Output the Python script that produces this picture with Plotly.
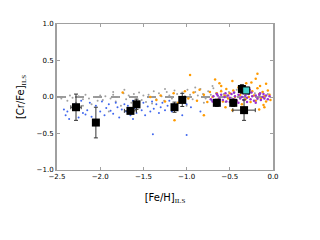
import plotly.graph_objects as go

gray_x = [-2.45,-2.42,-2.38,-2.35,-2.32,-2.28,-2.25,-2.2,-2.17,-2.13,-2.1,-2.07,-2.03,-2.0,-1.97,-1.94,-1.9,-1.88,-1.85,-1.82,-1.79,-1.76,-1.73,-1.7,-1.67,-1.64,-1.61,-1.58,-1.55,-1.52,-1.5,-1.47,-1.44,-1.41,-1.38,-1.35,-1.32,-1.29,-1.26,-1.23,-1.2,-1.17,-1.14,-1.11,-1.08,-1.05,-1.02,-0.99,-0.96,-0.93,-0.9,-0.87,-0.84,-0.81,-0.78,-0.75,-0.72,-0.69,-0.66,-0.63,-0.6,-0.57,-0.54,-0.51,-0.48,-0.45,-0.42,-0.39,-0.36,-0.33,-0.3,-0.27,-0.24,-0.21,-0.18,-0.15,-0.12,-0.09,-0.06,-1.6,-1.4,-1.0,-0.8,-0.55,-2.2,-1.85,-1.25,-0.9,-0.7,-1.72]
gray_y = [-0.02,0.0,-0.05,0.02,-0.01,-0.08,0.01,-0.03,0.03,-0.02,-0.1,0.0,-0.05,0.02,-0.04,0.01,-0.2,-0.02,0.03,-0.06,0.0,-0.12,0.05,-0.03,0.02,-0.08,0.04,-0.01,0.06,-0.04,0.02,-0.07,0.03,0.0,0.08,-0.03,0.05,0.01,-0.05,0.07,0.02,-0.02,0.09,0.04,-0.04,0.06,0.01,0.1,0.03,-0.03,0.07,0.02,0.11,0.04,-0.02,0.08,0.03,0.12,0.05,0.0,0.09,0.04,0.02,0.07,-0.01,0.05,0.1,0.02,0.06,-0.02,0.04,0.08,0.01,0.05,-0.03,0.03,0.07,0.0,0.04,-0.1,-0.09,-0.12,-0.08,-0.07,-0.12,0.07,0.11,0.13,0.15,0.1]

blue_x = [-2.42,-2.4,-2.38,-2.36,-2.3,-2.27,-2.25,-2.22,-2.2,-2.17,-2.15,-2.12,-2.1,-2.05,-2.0,-1.98,-1.95,-1.93,-1.9,-1.88,-1.85,-1.82,-1.8,-1.78,-1.75,-1.72,-1.7,-1.68,-1.65,-1.62,-1.6,-1.58,-1.55,-1.52,-1.5,-1.48,-1.45,-1.42,-1.4,-1.38,-1.35,-1.32,-1.3,-1.28,-1.25,-1.22,-1.2,-1.17,-1.15,-1.12,-1.1,-1.05,-1.0,-0.95,-1.39,-1.0,-0.84,-0.71,-1.62]
blue_y = [-0.17,-0.25,-0.2,-0.3,-0.1,-0.15,-0.28,-0.05,-0.22,-0.24,-0.18,-0.08,-0.27,-0.12,-0.2,-0.06,-0.25,-0.15,-0.1,-0.19,-0.23,-0.08,-0.14,-0.28,-0.17,-0.1,-0.2,-0.12,-0.25,-0.05,-0.15,-0.22,-0.1,-0.18,-0.08,-0.25,-0.13,-0.2,-0.06,-0.16,-0.1,-0.22,-0.14,-0.08,-0.18,-0.12,-0.05,-0.2,-0.1,-0.15,-0.08,-0.25,-0.1,-0.14,-0.51,-0.52,-0.2,-0.04,-0.3]

orange_x = [-1.74,-1.14,-0.96,-0.8,-0.67,-0.62,-0.6,-0.47,-0.31,-0.2,-0.18,-0.15,-0.16,-0.11,-0.47,-1.3,-1.25,-1.15,-1.1,-1.02,-0.98,-0.92,-0.88,-0.85,-0.8,-0.76,-0.73,-0.7,-0.68,-0.65,-0.63,-0.6,-0.58,-0.56,-0.54,-0.52,-0.5,-0.48,-0.46,-0.44,-0.42,-0.4,-0.38,-0.36,-0.34,-0.32,-0.3,-0.28,-0.26,-0.24,-0.22,-0.2,-0.18,-0.16,-0.14,-0.12,-0.1,-0.08,-0.06,-0.04,-0.03,-0.25,-0.08,-0.55,-0.35,-0.1,-1.42,-1.35]
orange_y = [0.06,-0.32,0.3,-0.25,0.24,0.19,0.15,0.22,0.19,0.25,0.32,0.15,-0.17,-0.11,-0.18,0.02,-0.06,0.05,-0.08,0.08,-0.02,0.06,-0.05,0.1,0.03,-0.07,0.07,0.0,-0.1,0.05,-0.03,0.08,-0.06,0.02,0.11,-0.02,0.05,-0.08,0.09,0.0,-0.05,0.13,0.03,-0.1,0.06,-0.03,0.1,0.0,-0.07,0.08,0.02,-0.05,0.12,0.04,-0.02,0.07,0.01,-0.06,0.09,0.03,-0.04,0.2,0.18,-0.14,-0.15,-0.14,0.0,-0.04]

purple_x = [-0.72,-0.69,-0.66,-0.64,-0.62,-0.6,-0.58,-0.56,-0.54,-0.52,-0.5,-0.48,-0.46,-0.44,-0.42,-0.4,-0.38,-0.36,-0.34,-0.32,-0.3,-0.28,-0.26,-0.24,-0.22,-0.2,-0.18,-0.16,-0.14,-0.12,-0.1,-0.08,-0.06,-0.04,-0.55,-0.45,-0.35,-0.25,-0.15,-0.65,-0.5,-0.3,-0.2,-0.4,-0.11,-0.33,-0.27,-0.7]
purple_y = [-0.03,0.01,-0.05,0.02,-0.02,0.03,-0.04,0.0,-0.06,0.02,-0.01,0.04,-0.03,0.01,-0.05,0.03,-0.02,0.0,-0.04,0.02,-0.01,0.04,-0.03,0.01,-0.05,0.02,-0.02,0.03,-0.04,0.0,-0.02,0.02,-0.03,0.01,0.05,0.06,0.05,0.06,0.05,0.04,-0.07,-0.07,-0.08,-0.08,0.04,0.08,0.1,-0.06]

bin_x = [-2.28,-2.05,-1.65,-1.58,-1.14,-1.05,-0.65,-0.46,-0.36,-0.335]
bin_y = [-0.14,-0.35,-0.19,-0.10,-0.14,-0.04,-0.08,-0.08,0.11,-0.18]
bin_xerr = [0.06,0.0,0.07,0.0,0.0,0.0,0.0,0.0,0.0,0.13]
bin_yerr = [0.18,0.21,0.04,0.07,0.07,0.09,0.05,0.05,0.06,0.14]

star_x = [-0.31]
star_y = [0.09]

fig = go.Figure()
fig.add_trace(go.Scatter(x=[-2.5, 0.0], y=[0.0, 0.0], mode="lines",
                         line=dict(color="#999999", width=2, dash="dash"), hoverinfo="skip"))
fig.add_trace(go.Scatter(x=gray_x, y=gray_y, mode="markers",
                         marker=dict(color="#a0a0a0", size=2)))
fig.add_trace(go.Scatter(x=blue_x, y=blue_y, mode="markers",
                         marker=dict(color="#3f66ee", size=2)))
fig.add_trace(go.Scatter(x=orange_x, y=orange_y, mode="markers",
                         marker=dict(color="#ff9a00", size=2.5)))
fig.add_trace(go.Scatter(x=purple_x, y=purple_y, mode="markers",
                         marker=dict(color="#9a30d0", size=2.5)))
fig.add_trace(go.Scatter(x=bin_x, y=bin_y, mode="markers",
                         marker=dict(color="black", size=8, symbol="square"),
                         error_x=dict(type="data", array=bin_xerr, color="#333333", thickness=1, width=2),
                         error_y=dict(type="data", array=bin_yerr, color="#333333", thickness=1, width=2)))
fig.add_trace(go.Scatter(x=star_x, y=star_y, mode="markers",
                         marker=dict(color="#40d0c8", size=7, symbol="square",
                                     line=dict(color="black", width=1))))

fig.update_layout(
    width=320, height=240, showlegend=False,
    paper_bgcolor="white", plot_bgcolor="white",
    margin=dict(l=38, r=55, t=15, b=78),
    font=dict(family="DejaVu Sans", size=7, color="black"),
)
fig.update_xaxes(range=[-2.5, 0.0], tickvals=[-2.5, -2.0, -1.5, -1.0, -0.5, 0.0],
                 ticktext=["\u22122.5", "\u22122.0", "\u22121.5", "\u22121.0", "\u22120.5", "0.0"],
                 showgrid=False, zeroline=False, showline=True, mirror="ticks",
                 linecolor="#a0a0a0", linewidth=1, ticks="inside", ticklen=3,
                 tickcolor="#a0a0a0",
                 title=dict(text="[Fe/H]<sub><span style='font-family:Liberation Serif'>ILS</span></sub>",
                            font=dict(size=10), standoff=13))
fig.update_yaxes(range=[-1.0, 1.0], tickvals=[-1.0, -0.5, 0.0, 0.5, 1.0],
                 ticktext=["\u22121.0", "\u22120.5", "0.0", "0.5", "1.0"],
                 showgrid=False, zeroline=False, showline=True, mirror="ticks",
                 linecolor="#a0a0a0", linewidth=2, ticks="inside", ticklen=3,
                 tickcolor="#a0a0a0",
                 title=dict(text="[Cr/Fe]<sub><span style='font-family:Liberation Serif'>ILS</span></sub>",
                            font=dict(size=10), standoff=10))

fig.write_html("out.html")
